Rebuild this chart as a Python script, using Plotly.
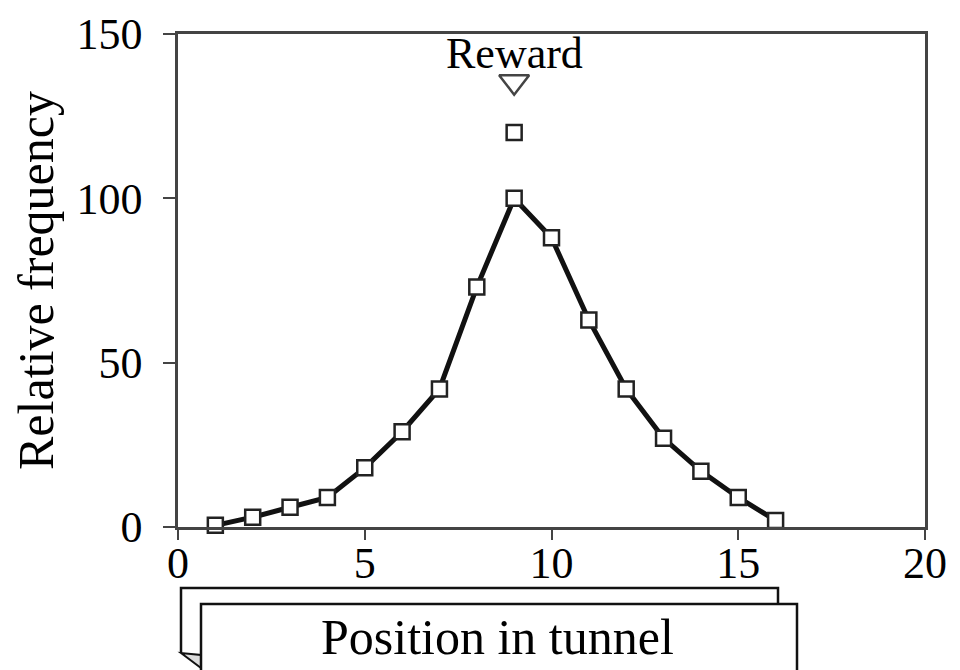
import plotly.graph_objects as go

# Data
positions = list(range(1, 17))
frequency = [0.5, 3, 6, 9, 18, 29, 42, 73, 100, 88, 63, 42, 27, 17, 9, 2]
extra_x = [9]
extra_y = [120]
reward_x = [9]
reward_y = [135.5]
reward_label = "Reward"
x_ticks = [0, 5, 10, 15, 20]
y_ticks = [0, 50, 100, 150]
x_title = "Position in tunnel"
y_title = "Relative frequency"

FONT = "Liberation Serif, Times New Roman, serif"

# plot area geometry (page pixels) for decorative box placement
L, R, T, B = 178, 925, 34, 527
W, H = 960, 670
OFF = 8  # page body margin


def px(xp):
    return (xp - L) / (R - L)


def py(yp):
    return (B - yp) / (B - T)


fig = go.Figure()

fig.add_trace(go.Scatter(
    x=positions, y=frequency, mode="lines+markers",
    line=dict(color="#111111", width=5),
    marker=dict(symbol="square", size=15, color="white",
                line=dict(color="#222222", width=2.5)),
    cliponaxis=False, showlegend=False,
))

fig.add_trace(go.Scatter(
    x=extra_x, y=extra_y, mode="markers",
    marker=dict(symbol="square", size=15, color="white",
                line=dict(color="#222222", width=2.5)),
    cliponaxis=False, showlegend=False,
))

fig.add_trace(go.Scatter(
    x=reward_x, y=reward_y, mode="markers",
    marker=dict(symbol="triangle-down", size=26, color="white",
                line=dict(color="#444444", width=2.5)),
    cliponaxis=False, showlegend=False,
))

fig.add_annotation(x=reward_x[0], y=144, xref="x", yref="y",
                   text=reward_label, showarrow=False,
                   font=dict(family=FONT, size=44, color="black"),
                   xanchor="center", yanchor="middle")

# Folded label box for the x-axis title
shapes = []
shapes.append(dict(type="path", xref="paper", yref="paper",
                   path=f"M {px(181)},{py(653)} L {px(181)},{py(588)} L {px(778)},{py(588)} L {px(778)},{py(604)}",
                   line=dict(color="#111111", width=2.5)))
shapes.append(dict(type="path", xref="paper", yref="paper",
                   path=f"M {px(181)},{py(653)} L {px(201)},{py(668)} L {px(201)},{py(655)} Z",
                   fillcolor="#dddddd", line=dict(color="#111111", width=2)))
shapes.append(dict(type="rect", xref="paper", yref="paper",
                   x0=px(201), x1=px(797), y0=py(690), y1=py(604),
                   fillcolor="white", line=dict(color="#111111", width=2.5)))
fig.update_layout(shapes=shapes)

fig.add_annotation(x=px(497), y=py(637), xref="paper", yref="paper",
                   text=x_title, showarrow=False,
                   font=dict(family=FONT, size=50, color="black"),
                   xanchor="center", yanchor="middle")

fig.update_xaxes(range=[0, 20], tickvals=x_ticks, ticks="outside", ticklen=10,
                 tickwidth=2, tickcolor="#444444", ticklabelstandoff=-15,
                 ticklabeloverflow="allow",
                 showline=True, linecolor="#444444", linewidth=2.5, mirror=True,
                 showgrid=False, zeroline=False,
                 tickfont=dict(family=FONT, size=44, color="black"))
fig.update_yaxes(range=[0, 150], tickvals=y_ticks, ticks="outside", ticklen=12,
                 tickwidth=2, tickcolor="#444444", ticklabelstandoff=12,
                 ticklabeloverflow="allow",
                 showline=True, linecolor="#444444", linewidth=2.5, mirror=True,
                 showgrid=False, zeroline=False,
                 tickfont=dict(family=FONT, size=44, color="black"),
                 title=dict(text=y_title, standoff=25,
                            font=dict(family=FONT, size=50, color="black")))

fig.update_layout(
    width=W - OFF, height=H - OFF,
    margin=dict(l=L - OFF, r=W - R, t=T - OFF, b=H - B, autoexpand=False),
    plot_bgcolor="white", paper_bgcolor="white",
)

fig.write_html("out.html")
